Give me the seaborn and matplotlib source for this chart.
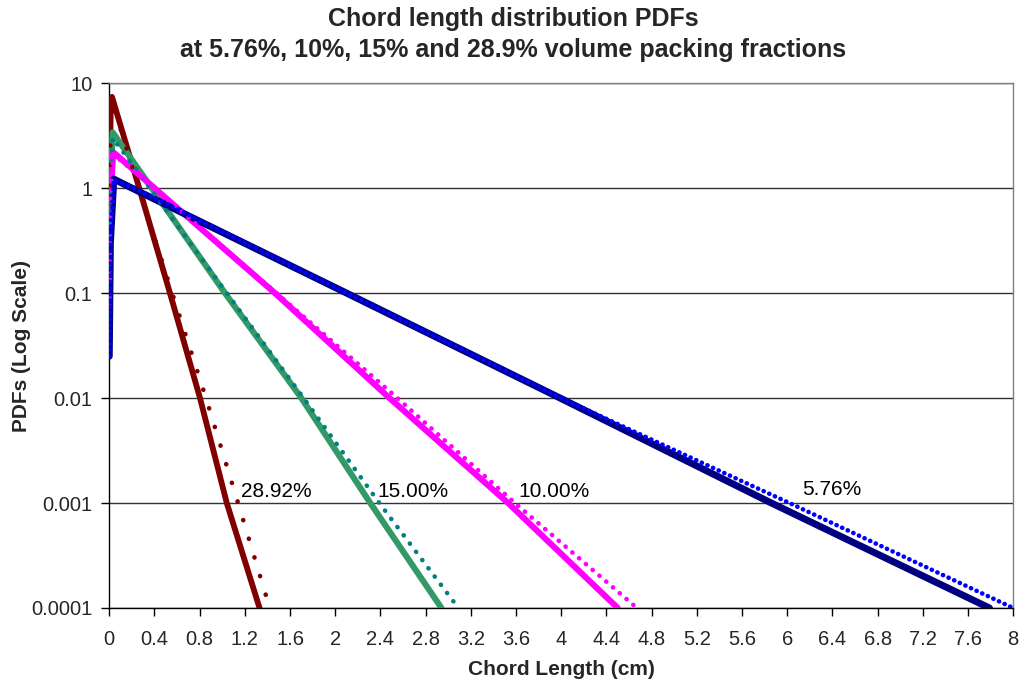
import numpy as np
import pandas as pd
import seaborn as sns
import matplotlib
matplotlib.use('Agg')
import matplotlib.pyplot as plt

red_x = [0.0, 0.005, 0.012, 0.024, 0.265, 0.537, 0.803, 1.04, 1.33]
red_y = [0.25, 1.5, 5.0, 7.4, 1.0, 0.1, 0.01, 0.001, 0.0001]
green_x = [0.0, 0.008, 0.03, 0.375, 1.024, 1.70, 2.31, 2.94]
green_y = [0.14, 1.0, 3.4, 1.0, 0.1, 0.01, 0.001, 0.0001]
magenta_x = [0.0, 0.01, 0.035, 0.40, 1.466, 2.48, 3.53, 4.50]
magenta_y = [0.075, 0.8, 2.2, 1.0, 0.1, 0.01, 0.001, 0.0001]
blue_x = [0.0, 0.01, 0.04, 0.20, 2.10, 3.99, 5.86, 7.79]
blue_y = [0.025, 0.3, 1.22, 1.0, 0.1, 0.01, 0.001, 0.0001]

# theoretical curves (dotted)
red_t_x = [0.0, 0.01, 0.02, 0.26, 0.557, 0.856, 1.14, 1.42]
red_t_y = [0.3, 3.0, 7.0, 1.0, 0.1, 0.01, 0.001, 0.0001]
teal_t_x = [0.0, 0.01, 0.03, 0.36, 1.04, 1.72, 2.39, 3.09]
teal_t_y = [0.15, 1.0, 3.0, 1.0, 0.1, 0.01, 0.001, 0.0001]
magenta_t_x = [0.0, 0.01, 0.035, 0.40, 1.48, 2.55, 3.59, 4.67]
magenta_t_y = [0.075, 0.8, 2.1, 1.0, 0.1, 0.01, 0.001, 0.0001]
blue_t_x = [0.0, 0.01, 0.04, 0.22, 2.10, 4.00, 6.02, 8.0]
blue_t_y = [0.025, 0.3, 1.2, 1.0, 0.1, 0.01, 0.001, 0.0001]

labels = ['28.92%', '15.00%', '10.00%', '5.76%']
label_x = [1.17, 2.37, 3.62, 6.13]
label_y = [0.0013, 0.0013, 0.0013, 0.00135]

x_ticks = [round(0.4 * i, 1) for i in range(21)]
y_ticks = [0.0001, 0.001, 0.01, 0.1, 1, 10]
y_tick_labels = ['0.0001', '0.001', '0.01', '0.1', '1', '10']

sns.set_style('white')
plt.rcParams['font.family'] = ['Liberation Sans', 'DejaVu Sans']

fig = plt.figure(figsize=(10.26, 6.87), dpi=100)
ax = fig.add_axes([0.1065, 0.115, 0.881, 0.764])

solid = [(red_x, red_y, '#800000', 4.2), (green_x, green_y, '#339966', 4.4),
         (magenta_x, magenta_y, '#FF00FF', 4.4), (blue_x, blue_y, '#000080', 5.0)]
# gap between dots differs per curve (points sampled at equal x steps)
dotted = [(red_t_x, red_t_y, '#800000', 4.2), (teal_t_x, teal_t_y, '#008080', 2.2),
          (magenta_t_x, magenta_t_y, '#FF00FF', 1.9), (blue_t_x, blue_t_y, '#0000FF', 1.3)]

for xs, ys, c, w in solid:
    sns.lineplot(x=xs, y=ys, ax=ax, color=c, lw=w, sort=False,
                 estimator=None, solid_capstyle='round', zorder=3)
for xs, ys, c, gap in dotted:
    sns.lineplot(x=xs, y=ys, ax=ax, color=c, lw=3.3, sort=False,
                 estimator=None, linestyle=(0, (0.05, gap)),
                 dash_capstyle='round', zorder=4)

ax.set_yscale('log')
ax.set_xlim(0, 8)
ax.set_ylim(0.0001, 10)
ax.set_xticks(x_ticks)
ax.set_xticklabels([('%g' % t) for t in x_ticks], fontsize=14.5)
ax.set_yticks(y_ticks)
ax.set_yticklabels(y_tick_labels, fontsize=14.5)
ax.yaxis.set_minor_locator(matplotlib.ticker.NullLocator())
ax.tick_params(axis='both', direction='out', length=6, width=1, color='black',
               bottom=True, left=True, pad=6)
ax.tick_params(axis='x', pad=10)

ax.grid(axis='y', color='#333333', lw=1.0)
ax.grid(axis='x', visible=False)
for s in ['left', 'bottom']:
    ax.spines[s].set_color('black')
    ax.spines[s].set_linewidth(1.0)
for s in ['top', 'right']:
    ax.spines[s].set_color('#808080')
    ax.spines[s].set_linewidth(1.0)

for t, lx, ly in zip(labels, label_x, label_y):
    ax.text(lx, ly, t, fontsize=15, va='center', ha='left', color='black', zorder=5)

ax.set_xlabel('Chord Length (cm)', fontsize=15, fontweight='bold', labelpad=8)
ax.set_ylabel('PDFs (Log Scale)', fontsize=15, fontweight='bold')
ax.yaxis.set_label_coords(-0.087, 0.5)
fig.suptitle('Chord length distribution PDFs\nat 5.76%, 10%, 15% and 28.9% volume packing fractions',
             fontsize=18, fontweight='bold', x=0.5, y=0.99, va='top', linespacing=1.35)

fig.savefig('out.png', dpi=100)
